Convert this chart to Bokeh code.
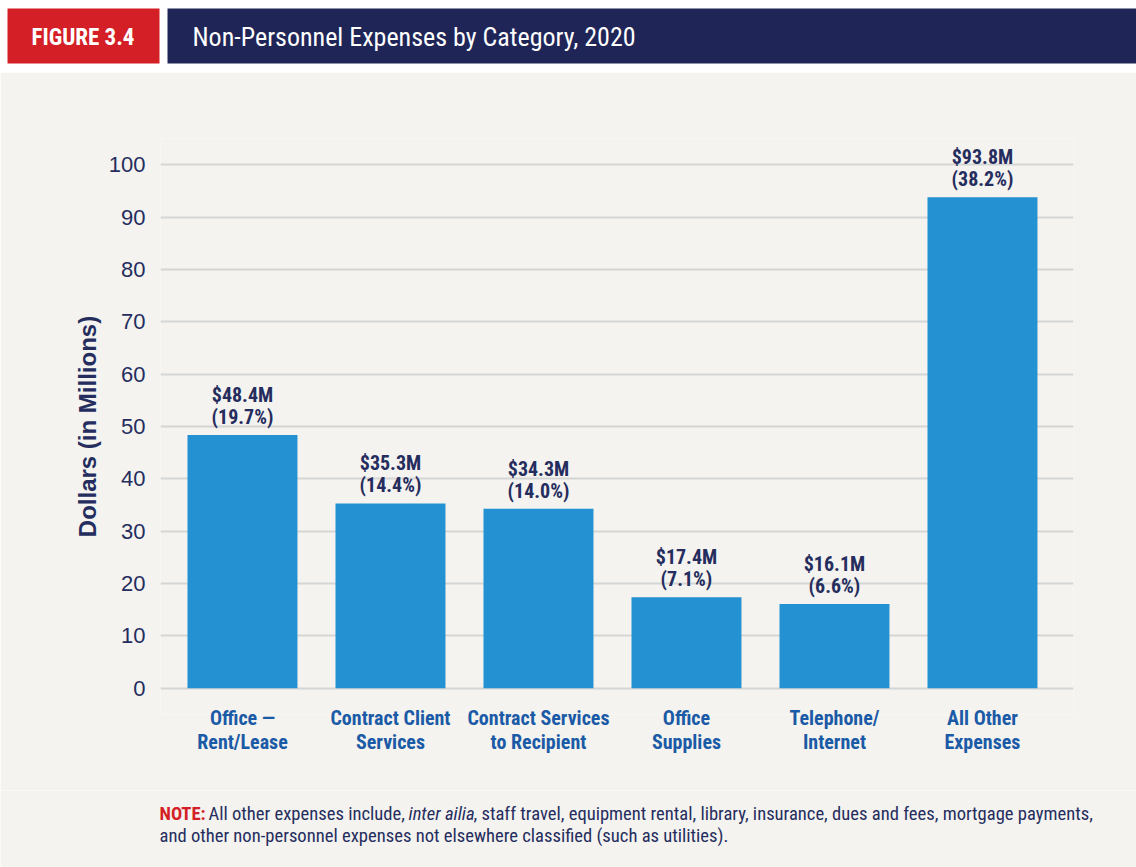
from bokeh.plotting import figure
from bokeh.models import Range1d, FixedTicker, ColumnDataSource, LabelSet
from bokeh.layouts import column
from bokeh.core.properties import value
from bokeh.embed import file_html
from bokeh.resources import INLINE

# ---------------- data ----------------
categories = ["Office \u2014\nRent/Lease", "Contract Client\nServices",
              "Contract Services\nto Recipient", "Office\nSupplies",
              "Telephone/\nInternet", "All Other\nExpenses"]
values = [48.4, 35.3, 34.3, 17.4, 16.1, 93.8]
shares = [19.7, 14.4, 14.0, 7.1, 6.6, 38.2]
y_ticks = [0, 10, 20, 30, 40, 50, 60, 70, 80, 90, 100]

fig_label = "FIGURE 3.4"
title_text = "Non-Personnel Expenses by Category, 2020"
y_title = "Dollars (in Millions)"
note_head = "NOTE:"
note_a = "All other expenses include,"
note_b = "inter ailia"
note_c = ", staff travel, equipment rental, library, insurance, dues and fees, mortgage payments,"
note_d = "and other non-personnel expenses not elsewhere classified (such as utilities)."

# ---------------- styles ----------------
NARROW = "'Liberation Sans Narrow', 'Roboto Condensed', 'DejaVu Sans Condensed', 'Liberation Sans', sans-serif"
REG = "'Liberation Sans', Arial, sans-serif"
PANEL = "#f4f3ef"
NAVY = "#1f2557"
TEXT_NAVY = "#252d5e"
RED = "#d41f26"
BAR = "#2391d2"
XLAB = "#1b5aa6"
GRID = "#d4d5d5"
W = 1136


def bare(height, y0, y1, bg):
    f = figure(width=W, height=height, x_range=Range1d(0, W), y_range=Range1d(y0, y1),
               output_backend="svg", toolbar_location=None,
               x_axis_location=None, y_axis_location=None, min_border=0)
    f.frame_align = False
    f.outline_line_color = None
    f.background_fill_color = bg
    f.border_fill_color = bg
    f.grid.visible = False
    return f


# ---------------- header ----------------
hdr = bare(72, 72, 0, "white")
hdr.quad(left=[7], right=[159], top=[8], bottom=[63], color=RED, line_color=None)
hdr.quad(left=[167], right=[W], top=[8], bottom=[63], color=NAVY, line_color=None)
hdr.text(x=[82.5], y=[36.5], text=[fig_label], text_color="white", text_align="center",
         text_baseline="middle", text_font=value(NARROW), text_font_style="bold",
         text_font_size="23px")
hdr.text(x=[192], y=[36.5], text=[title_text], text_color="white", text_align="left",
         text_baseline="middle", text_font=value(NARROW), text_font_size="26px")

# ---------------- main chart ----------------
xs = list(range(len(categories)))
src = ColumnDataSource(dict(
    x=xs, v=values,
    l1=[f"${v}M" for v in values],
    l2=[f"({s}%)" for s in shares],
))

p = figure(width=W, height=718, x_range=Range1d(-0.554, 5.615), y_range=Range1d(-5, 105),
           output_backend="svg", toolbar_location=None,
           min_border_left=160, min_border_right=63, min_border_top=66, min_border_bottom=76)
p.frame_align = False
p.outline_line_color = None
p.background_fill_color = PANEL
p.border_fill_color = PANEL

p.xgrid.visible = False
p.ygrid.ticker = FixedTicker(ticks=y_ticks)
p.ygrid.grid_line_color = GRID
p.ygrid.grid_line_width = 2

p.yaxis.ticker = FixedTicker(ticks=y_ticks)
p.yaxis.axis_line_color = None
p.yaxis.major_tick_line_color = None
p.yaxis.minor_tick_line_color = None
p.yaxis.major_label_standoff = 9
p.yaxis.major_label_text_font = REG
p.yaxis.major_label_text_font_size = "22px"
p.yaxis.major_label_text_color = TEXT_NAVY
p.yaxis.axis_label = y_title
p.yaxis.axis_label_text_font = REG
p.yaxis.axis_label_text_font_style = "bold"
p.yaxis.axis_label_text_font_size = "24px"
p.yaxis.axis_label_text_color = TEXT_NAVY
p.yaxis.axis_label_standoff = 5

p.xaxis.ticker = FixedTicker(ticks=xs)
p.xaxis.major_label_overrides = {x: c for x, c in zip(xs, categories)}
p.xaxis.axis_line_color = None
p.xaxis.major_tick_line_color = None
p.xaxis.minor_tick_line_color = None
p.xaxis.major_label_standoff = -15
p.xaxis.major_label_text_font = NARROW
p.xaxis.major_label_text_font_style = "bold"
p.xaxis.major_label_text_font_size = "20px"
p.xaxis.major_label_text_line_height = 1.0
p.xaxis.major_label_text_color = XLAB
p.xaxis.major_label_text_align = "center"

p.vbar(x="x", top="v", width=0.743, bottom=0, source=src, color=BAR, line_color=None)

for col, off in (("l1", 40), ("l2", 18)):
    p.add_layout(LabelSet(x="x", y="v", text=col, source=src, y_offset=off,
                          text_align="center", text_baseline="middle",
                          text_font=value(NARROW), text_font_style="bold",
                          text_font_size="20px", text_color=TEXT_NAVY))

# ---------------- note ----------------
nt = bare(77, 867, 790, PANEL)
common = dict(text_baseline="middle", text_align="left", text_font=value(NARROW),
              text_font_size="18.6px")
nt.text(x=[159], y=[813], text=[note_head], text_color=RED, text_font_style="bold", **common)
nt.text(x=[208], y=[813], text=[note_a], text_color=TEXT_NAVY, **common)
nt.text(x=[408], y=[813], text=[note_b], text_color=TEXT_NAVY, text_font_style="italic", **common)
nt.text(x=[473], y=[813], text=[note_c], text_color=TEXT_NAVY, **common)
nt.text(x=[159], y=[835], text=[note_d], text_color=TEXT_NAVY, **common)

layout = column(hdr, p, nt, spacing=0)
open("out.html", "w").write(file_html(layout, INLINE))
